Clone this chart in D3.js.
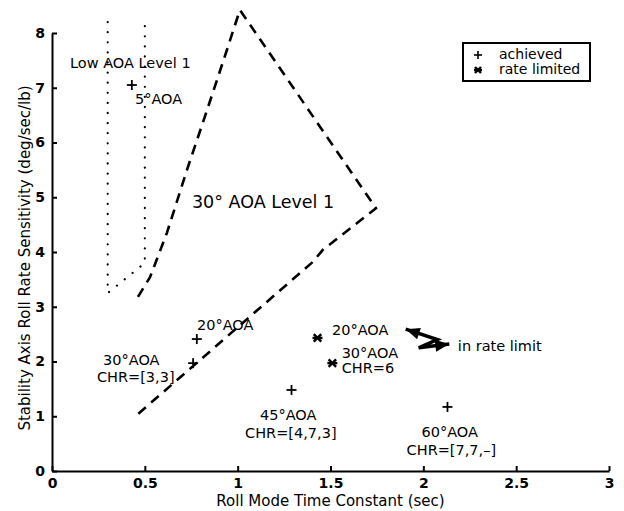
<!DOCTYPE html>
<html lang="en">
<head>
<meta charset="utf-8">
<title>Roll rate sensitivity</title>
<script src="https://cdnjs.cloudflare.com/ajax/libs/d3/7.8.5/d3.min.js"></script>
<style>
body { margin: 0; background: #fff; }
svg text { font-family: "DejaVu Sans", sans-serif; fill: #000; }
.axis path, .axis line { fill: none; stroke: #000; stroke-width: 2; }
.axis text { font-size: 14px; font-weight: bold; font-family: "DejaVu Sans", sans-serif; }
</style>
</head>
<body>
<script>
var w = 624, h = 511;

// achieved points [time constant, sensitivity]
var achieved = [[0.43, 7.05], [0.78, 2.41], [0.76, 1.97], [1.29, 1.48], [2.13, 1.17]];
// rate limited points
var rateLimited = [[1.43, 2.43], [1.51, 1.97]];

// 30 deg AOA level 1 boundary (dashed)
var level30 = [[0.463, 3.18], [0.528, 3.54], [0.619, 4.35], [0.727, 5.50], [0.835, 6.59],
               [0.942, 7.69], [1.012, 8.42], [1.745, 4.80], [1.459, 4.04], [1.405, 3.82], [0.463, 1.04]];
// low AOA level 1 boundary (dotted)
var lowAoa = [[0.3, 8.2], [0.3, 3.25], [0.5, 3.8], [0.5, 8.2]];

var xTicks = [0, 0.5, 1, 1.5, 2, 2.5, 3];
var yTicks = [0, 1, 2, 3, 4, 5, 6, 7, 8];

var labels = [
  {t: "Low AOA Level 1", x: 0.097, y: 7.36, s: 14.5},
  {t: "5°AOA", x: 0.447, y: 6.70, s: 14.5},
  {t: "30° AOA Level 1", x: 0.754, y: 4.80, s: 17.5},
  {t: "20°AOA", x: 0.781, y: 2.58, s: 14.5},
  {t: "30°AOA", x: 0.275, y: 1.93, s: 14.5},
  {t: "CHR=[3,3]", x: 0.242, y: 1.63, s: 14.5},
  {t: "45°AOA", x: 1.12, y: 0.93, s: 14.5},
  {t: "CHR=[4,7,3]", x: 1.04, y: 0.61, s: 14.5},
  {t: "60°AOA", x: 1.99, y: 0.62, s: 14.5},
  {t: "CHR=[7,7,\u2013]", x: 1.91, y: 0.29, s: 14.5},
  {t: "20°AOA", x: 1.508, y: 2.48, s: 14.5},
  {t: "30°AOA", x: 1.56, y: 2.06, s: 14.5},
  {t: "CHR=6", x: 1.56, y: 1.79, s: 14.5},
  {t: "in rate limit", x: 2.186, y: 2.20, s: 14.5}
];

// zig-zag double arrow pointing at the rate limited labels
var zig = [[1.905, 2.59], [2.075, 2.40], [1.975, 2.25], [2.14, 2.32]];

var x = d3.scaleLinear().domain([0, 3]).range([52, 609]);
var y = d3.scaleLinear().domain([0, 8]).range([471, 33]);

var svg = d3.select("body").append("svg")
  .attr("width", w).attr("height", h);

var line = d3.line()
  .x(function(d) { return x(d[0]); })
  .y(function(d) { return y(d[1]); });

svg.append("path")
  .datum(level30)
  .attr("d", line)
  .attr("fill", "none")
  .attr("stroke", "#000")
  .attr("stroke-width", 2.6)
  .attr("stroke-dasharray", "10,7");

svg.append("path")
  .datum(lowAoa)
  .attr("d", line)
  .attr("fill", "none")
  .attr("stroke", "#000")
  .attr("stroke-width", 2.2)
  .attr("stroke-linecap", "round")
  .attr("stroke-dasharray", "0.1,10");

// axes, ticks pointing inward
svg.append("g")
  .attr("class", "axis")
  .attr("transform", "translate(0," + y(0) + ")")
  .call(d3.axisBottom(x).tickValues(xTicks).tickSizeInner(-5).tickSizeOuter(0).tickPadding(7)
    .tickFormat(function(d) { return d; }));

svg.append("g")
  .attr("class", "axis")
  .attr("transform", "translate(" + x(0) + ",0)")
  .call(d3.axisLeft(y).tickValues(yTicks).tickSizeInner(-5).tickSizeOuter(0).tickPadding(7));

// markers
function plus(g, s) {
  g.append("line").attr("x1", -s).attr("x2", s).attr("y1", 0).attr("y2", 0);
  g.append("line").attr("x1", 0).attr("x2", 0).attr("y1", -s).attr("y2", s);
}
function star(g, s) {
  var d = s * 0.75;
  g.append("line").attr("x1", -s).attr("x2", s).attr("y1", 0).attr("y2", 0);
  g.append("line").attr("x1", -d).attr("x2", d).attr("y1", -d).attr("y2", d);
  g.append("line").attr("x1", -d).attr("x2", d).attr("y1", d).attr("y2", -d);
}

svg.selectAll(".ach")
  .data(achieved)
  .enter().append("g")
  .attr("class", "ach")
  .attr("stroke", "#000").attr("stroke-width", 1.8)
  .attr("transform", function(d) { return "translate(" + x(d[0]) + "," + y(d[1]) + ")"; })
  .each(function() { plus(d3.select(this), 5); });

svg.selectAll(".rl")
  .data(rateLimited)
  .enter().append("g")
  .attr("class", "rl")
  .attr("stroke", "#000").attr("stroke-width", 2.4)
  .attr("transform", function(d) { return "translate(" + x(d[0]) + "," + y(d[1]) + ")"; })
  .each(function() { star(d3.select(this), 5); });

// annotations
svg.selectAll(".lab")
  .data(labels)
  .enter().append("text")
  .attr("class", "lab")
  .attr("x", function(d) { return x(d.x); })
  .attr("y", function(d) { return y(d.y); })
  .attr("font-size", function(d) { return d.s + "px"; })
  .text(function(d) { return d.t; });

svg.append("path")
  .datum(zig)
  .attr("d", line)
  .attr("fill", "none")
  .attr("stroke", "#000")
  .attr("stroke-width", 3.5)
  .attr("stroke-linejoin", "miter");

function head(p, q, len) {
  // filled triangle tip at p, pointing away from q
  var px = x(p[0]), py = y(p[1]), qx = x(q[0]), qy = y(q[1]);
  var a = Math.atan2(py - qy, px - qx);
  var l = len, wd = 6;
  var bx = px - l * Math.cos(a), by = py - l * Math.sin(a);
  return [[px, py],
          [bx + wd * Math.sin(a), by - wd * Math.cos(a)],
          [bx - wd * Math.sin(a), by + wd * Math.cos(a)]];
}
[head(zig[0], zig[1], 14), head(zig[3], zig[2], 14)].forEach(function(t) {
  svg.append("polygon")
    .attr("points", t.map(function(p) { return p.join(","); }).join(" "))
    .attr("fill", "#000");
});

// legend
var leg = svg.append("g").attr("transform", "translate(463,43)");
leg.append("rect").attr("width", 127).attr("height", 38)
  .attr("fill", "#fff").attr("stroke", "#000").attr("stroke-width", 2);
var lg1 = leg.append("g").attr("transform", "translate(15,12)").attr("stroke", "#000").attr("stroke-width", 1.6);
plus(lg1, 4);
var lg2 = leg.append("g").attr("transform", "translate(15,27)").attr("stroke", "#000").attr("stroke-width", 2.4);
star(lg2, 4);
leg.append("text").attr("x", 36).attr("y", 16).attr("font-size", "14px").text("achieved");
leg.append("text").attr("x", 36).attr("y", 31).attr("font-size", "14px").text("rate limited");

// axis titles
svg.append("text")
  .attr("x", x(1.5)).attr("y", 506)
  .attr("text-anchor", "middle")
  .attr("font-size", "15px")
  .text("Roll Mode Time Constant (sec)");

svg.append("text")
  .attr("transform", "translate(30,258) rotate(-90)")
  .attr("text-anchor", "middle")
  .attr("font-size", "15px")
  .text("Stability Axis Roll Rate Sensitivity (deg/sec/lb)");
</script>
</body>
</html>
